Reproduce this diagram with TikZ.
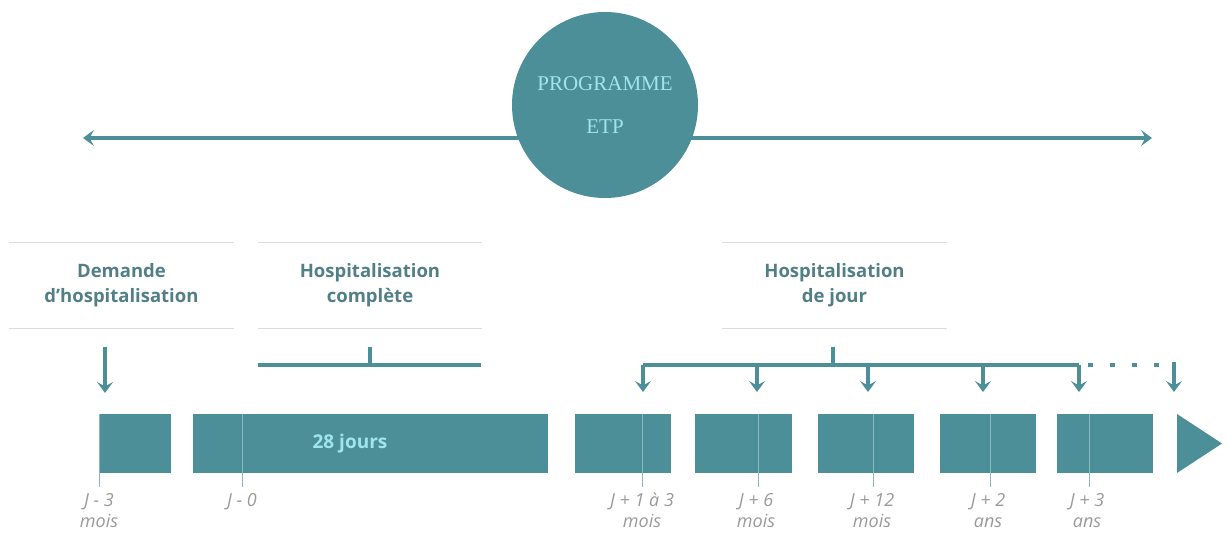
\documentclass[tikz,border=0pt]{standalone}
\usepackage{fontspec}
\setmainfont{Open Sans}
\newfontfamily\etpserif{Liberation Serif}
\usetikzlibrary{arrows.meta,positioning}
\definecolor{etpteal}{HTML}{4C8F98}
\definecolor{etphead}{HTML}{527F86}
\definecolor{etplight}{HTML}{9FE6EC}
\definecolor{etprule}{HTML}{DCDCDC}
\definecolor{etptick}{HTML}{86BAC1}
\definecolor{etpwhen}{HTML}{9A9A9A}
\newcommand{\whenstrut}{\rule{0pt}{15pt}}
\tikzset{
  bar/.style={fill=etpteal, minimum height=59pt, inner sep=0pt},
  header/.style={minimum width=224pt, minimum height=85pt, inner sep=0pt, align=center,
    text=etphead, font=\fontsize{18.5}{25}\selectfont\bfseries},
  rule/.style={draw=etprule, line width=1pt},
  link/.style={draw=etpteal, line width=3.2pt},
  down/.style={link, -{Stealth[length=11pt,width=16pt,inset=4.5pt]}},
  tick/.style={draw=etptick, line width=0.8pt},
  when/.style={text=etpwhen, align=center, inner sep=0pt, anchor=north,
    font=\fontsize{18}{21}\selectfont\itshape},
}
\begin{document}
\begin{tikzpicture}[x=1pt, y=-1pt]
\useasboundingbox (0,0) rectangle (1227,534);
% timeline of the programme
\coordinate (arrL) at (83,138);
\coordinate (arrR) at (1152,138);
\draw[link, line width=3.6pt, {Stealth[length=11pt,width=16pt,inset=4.5pt]}-{Stealth[length=11pt,width=16pt,inset=4.5pt]}] (arrL) -- (arrR);
\node[circle, fill=etpteal, minimum size=186pt, inner sep=0pt, align=center, text=etplight,
  font=\etpserif\fontsize{21}{43}\selectfont] (etp) at (605,105) {PROGRAMME\\ETP};

% headers
\node[header] (dem) at (121.5,285.5) {Demande\\d’hospitalisation};
\node[header] (hospc) at (370,285.5) {Hospitalisation\\complète};
\node[header] (hospj) at (834.5,285.5) {Hospitalisation\\de jour};
\draw[rule] (dem.north west) -- (dem.north east);
\draw[rule] (dem.south west) -- (dem.south east);
\draw[rule] (hospc.north west) -- (hospc.north east);
\draw[rule] (hospc.south west) -- (hospc.south east);
\draw[rule] (hospj.north west) -- (hospj.north east);
\draw[rule] (hospj.south west) -- (hospj.south east);

% brackets and arrows
\coordinate (demtop) at (105,347);
\coordinate (demend) at (105,393);
\draw[down] (demtop) -- (demend);
\coordinate (hcl) at (258,365);
\coordinate (hcr) at (481,365);
\coordinate (hct) at (370,347);
\draw[link] (hcl) -- (hcr);
\draw[link] (hct) -- (370,365);
\coordinate (hjt) at (833,347);
\coordinate (hj1) at (643,365);
\coordinate (hj2) at (757,365);
\coordinate (hj3) at (868,365);
\coordinate (hj4) at (983,365);
\coordinate (hj5) at (1079,365);
\coordinate (hj6) at (1174,365);
\draw[link] (hj1) -- (hj5);
\draw[link] (hjt) -- (833,365);
\draw[link, dash pattern=on 5pt off 17pt] (1088,365) -- (1165,365);
\draw[down] (hj1) -- ++(0,27);
\draw[down] (hj2) -- ++(0,27);
\draw[down] (hj3) -- ++(0,27);
\draw[down] (hj4) -- ++(0,27);
\draw[down] (hj5) -- ++(0,27);
\draw[down] (1174,362) -- ++(0,30);

% bars
\node[bar, minimum width=72pt] (b1) at (135,443.5) {};
\node[bar, minimum width=355pt] (b2) at (370.5,443.5) {};
\node[text=etplight, font=\fontsize{19}{20}\selectfont\bfseries] (jours) at (350,443.5) {28 jours};
\node[bar, minimum width=96pt] (b3) at (623,443.5) {};
\node[bar, minimum width=97pt] (b4) at (743.5,443.5) {};
\node[bar, minimum width=96pt] (b5) at (866,443.5) {};
\node[bar, minimum width=96pt] (b6) at (988,443.5) {};
\node[bar, minimum width=96pt] (b7) at (1105,443.5) {};
\fill[etpteal] (1177,414) -- (1222,443.5) -- (1177,473) -- cycle;

% dates
\draw[tick] (99,414) -- (99,487);
\draw[tick] (242,414) -- (242,487);
\draw[tick] (642,414) -- (642,487);
\draw[tick] (758,414) -- (758,487);
\draw[tick] (873,414) -- (873,487);
\draw[tick] (990,414) -- (990,487);
\draw[tick] (1089,414) -- (1089,487);
\node[when] (d1) at (99,491) {\whenstrut J - 3\\mois};
\node[when] (d2) at (242,491) {\whenstrut J - 0};
\node[when] (d3) at (642,491) {\whenstrut J + 1 à 3\\mois};
\node[when] (d4) at (756,491) {\whenstrut J + 6\\mois};
\node[when] (d5) at (872,491) {\whenstrut J + 12\\mois};
\node[when] (d6) at (988,491) {\whenstrut J + 2\\ans};
\node[when] (d7) at (1087,491) {\whenstrut J + 3\\ans};
\end{tikzpicture}
\end{document}
